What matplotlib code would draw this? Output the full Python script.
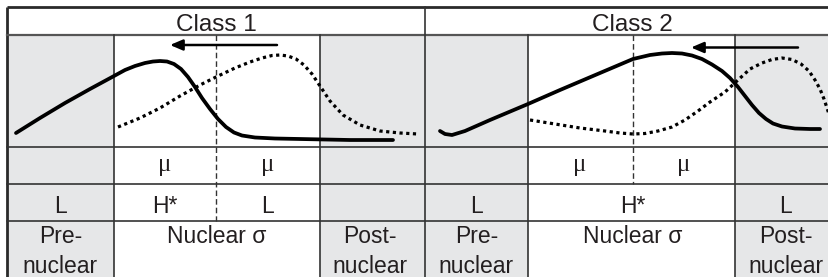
import matplotlib
matplotlib.use("Agg")
import matplotlib.pyplot as plt
from matplotlib.patches import Rectangle

plt.rcParams['font.family'] = ['Liberation Sans', 'DejaVu Sans']

# ---------------- data (pixel-space readings) ----------------
c1_solid_x = [16, 40, 65, 90, 114, 125, 135, 145, 153, 160, 167, 174, 181, 188, 195, 202, 210, 218, 226, 234, 242, 255, 275, 300, 350, 393]
c1_solid_y = [133, 118, 103, 89, 76, 70, 66, 63, 61.5, 61, 61.5, 64, 69, 77, 87, 98, 109, 119, 127, 132.5, 135.5, 137.5, 138.5, 139, 140, 140]

c1_dot_x = [118, 140, 160, 180, 200, 216, 235, 250, 262, 272, 280, 288, 296, 304, 312, 320, 330, 343, 360, 380, 400, 418]
c1_dot_y = [127, 118, 108, 96, 85, 77, 68, 62, 58, 55.5, 55, 56, 59, 65, 74, 86, 101, 115, 125, 131, 133, 134]

c2_solid_x = [440, 445, 452, 465, 490, 528, 560, 600, 633, 650, 662, 672, 682, 692, 702, 712, 722, 730, 738, 745, 752, 759, 766, 773, 782, 795, 810, 820]
c2_solid_y = [131, 134, 135, 131, 120, 104, 90, 73, 59, 55, 53.5, 53, 53.5, 55.5, 59, 64.5, 71, 78, 87, 96, 105, 113, 119, 123.5, 126.5, 128.5, 129, 129]

c2_dot_x = [530, 555, 580, 605, 620, 633, 645, 658, 672, 685, 698, 710, 725, 738, 750, 762, 772, 782, 792, 801, 809, 815, 820, 824, 828, 832]
c2_dot_y = [120, 124, 128, 131, 133, 134, 133.5, 131, 127, 120, 111, 102, 92, 80, 69, 63, 59.5, 58, 59.5, 64, 71, 80, 89, 99, 111, 124]

class_labels = ["Class 1", "Class 2"]
mu_label = "\u03bc"
tone_row_c1 = ["L", "H*", "L"]
tone_row_c2 = ["L", "H*", "L"]
region_labels = [("Pre-", "nuclear"), "Nuclear \u03c3", ("Post-", "nuclear")]

# ---------------- layout ----------------
W, H = 829, 277
fig = plt.figure(figsize=(W / 100, H / 100), dpi=100)
ax = fig.add_axes([0, 0, 1, 1])
ax.set_xlim(0, W)
ax.set_ylim(H, 0)
ax.axis('off')

grey = '#e6e7e8'
line_c = '#333333'
text_c = '#231f20'

left, top, bottom, right = 7, 7, 279, 835
y_head, y_curve, y_mu, y_tone = 35, 147, 184, 221
c1_cols = [left, 114, 320, 425]
c2_cols = [425, 528, 735, right]
c1_mid, c2_mid = 216, 633

# grey side columns
for a, b in [(c1_cols[0], c1_cols[1]), (c1_cols[2], c1_cols[3]),
             (c2_cols[0], c2_cols[1]), (c2_cols[2], c2_cols[3])]:
    ax.add_patch(Rectangle((a, y_head), b - a, bottom - y_head, facecolor=grey,
                           edgecolor='none', zorder=0))

# grid lines
ax.plot([left, right], [top, top], color='#2a2a2a', lw=2.0, solid_capstyle='butt', zorder=3)
ax.plot([left, left], [top, bottom], color='#2a2a2a', lw=2.0, solid_capstyle='butt', zorder=3)
ax.plot([left, right], [y_head, y_head], color='#555555', lw=1.6, zorder=3)
for yy in [y_curve, y_mu, y_tone]:
    ax.plot([left, right], [yy, yy], color=line_c, lw=1.2, zorder=3)
ax.plot([425, 425], [top, bottom], color=line_c, lw=1.2, zorder=3)
for xx in [114, 320, 528, 735]:
    ax.plot([xx, xx], [y_head, bottom], color=line_c, lw=1.2, zorder=3)

# dashed dividers
ax.plot([c1_mid, c1_mid], [y_head, y_tone], color=line_c, lw=1.0, linestyle=(0, (4, 2.2)), zorder=3)
ax.plot([c2_mid, c2_mid], [y_head, y_mu], color=line_c, lw=1.0, linestyle=(0, (4, 2.2)), zorder=3)

# curves
ax.plot(c1_solid_x, c1_solid_y, color='black', lw=2.7, solid_joinstyle='round', solid_capstyle='round', zorder=4)
ax.plot(c2_solid_x, c2_solid_y, color='black', lw=2.7, solid_joinstyle='round', solid_capstyle='round', zorder=4)
ax.plot(c1_dot_x, c1_dot_y, color='black', lw=2.3, linestyle=(0, (1, 1.1)), dash_capstyle='butt', zorder=4)
ax.plot(c2_dot_x, c2_dot_y, color='black', lw=2.3, linestyle=(0, (1, 1.1)), dash_capstyle='butt', zorder=4)

# arrows
for x0, x1, yy in [(277, 170, 45), (798, 691, 47.5)]:
    ax.annotate('', xy=(x1, yy), xytext=(x0, yy),
                arrowprops=dict(arrowstyle='-|>,head_length=0.75,head_width=0.32', lw=1.8,
                                color='black', shrinkA=0, shrinkB=0), zorder=5)

# text
fs = 16.5
ax.text(216, 31, class_labels[0], ha='center', va='baseline', fontsize=17.5, color=text_c)
ax.text(632, 31, class_labels[1], ha='center', va='baseline', fontsize=17.5, color=text_c)

for xx in [165, 268, 580, 684]:
    ax.text(xx, 171, mu_label, ha='center', va='baseline', fontsize=18,
            family=['Liberation Serif', 'DejaVu Serif'], color=text_c)

for xx, t in zip([60.5, 165, 268], tone_row_c1):
    ax.text(xx, 213, t, ha='center', va='baseline', fontsize=fs, color=text_c)
for xx, t in zip([476.5, 633, 786], tone_row_c2):
    ax.text(xx, 213, t, ha='center', va='baseline', fontsize=fs, color=text_c)

for pre_x, mid_x, post_x in [(60.5, 217, 370), (476.5, 633, 786)]:
    ax.text(pre_x, 243, region_labels[0][0], ha='center', va='baseline', fontsize=fs, color=text_c)
    ax.text(pre_x, 273, region_labels[0][1], ha='center', va='baseline', fontsize=fs, color=text_c)
    ax.text(mid_x, 243, region_labels[1], ha='center', va='baseline', fontsize=fs, color=text_c)
    ax.text(post_x, 243, region_labels[2][0], ha='center', va='baseline', fontsize=fs, color=text_c)
    ax.text(post_x, 273, region_labels[2][1], ha='center', va='baseline', fontsize=fs, color=text_c)

fig.savefig('out.png', dpi=100)
